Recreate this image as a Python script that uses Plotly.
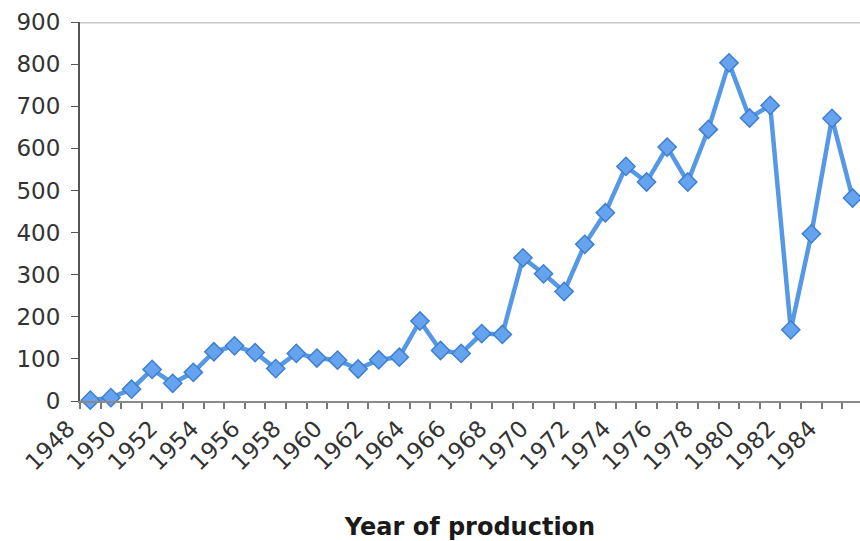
import plotly.graph_objects as go

# Yearly production counts
years = list(range(1948, 1986))
counts = [2, 8, 28, 75, 42, 68, 117, 131, 115, 77,
          113, 102, 97, 76, 98, 104, 190, 120, 113, 160,
          158, 340, 302, 260, 372, 447, 557, 520, 603, 520,
          645, 803, 672, 702, 169, 397, 671, 482]

x_label_years = list(range(1948, 1986, 2))
y_ticks = list(range(0, 1000, 100))

fig = go.Figure(
    go.Scatter(
        x=years,
        y=counts,
        mode="lines+markers",
        line=dict(color="#5598e6", width=4.5),
        marker=dict(symbol="diamond", size=14, color="#66a3ee",
                    line=dict(color="#3f7fd2", width=1.5)),
        cliponaxis=False,
    )
)

fig.update_layout(
    width=860,
    height=541,
    margin=dict(l=80, r=0, t=22, b=140),
    paper_bgcolor="white",
    plot_bgcolor="white",
    showlegend=False,
    shapes=[dict(type="line", xref="paper", yref="y", x0=0, x1=1, y0=900, y1=900,
                 line=dict(color="#c8c8c8", width=3))],
)

fig.update_xaxes(
    range=[1947.5, 1985.36],
    tickmode="array",
    tickvals=x_label_years,
    ticktext=[str(y) for y in x_label_years],
    tickangle=-45,
    ticks="outside",
    ticklen=0,
    tickfont=dict(family="DejaVu Sans", size=23, color="#333333"),
    ticklabelshift=-22,
    ticklabelstandoff=3,
    minor=dict(tickmode="linear", tick0=1947.5, dtick=1, ticks="outside",
               ticklen=6, tickcolor="#777777", tickwidth=1.5),
    showline=True,
    linecolor="#8a8a8a",
    linewidth=2,
    showgrid=False,
    zeroline=False,
    title=dict(text="Year of production",
               font=dict(family="DejaVu Sans", size=24, color="#1a1a1a", weight="bold"),
               standoff=46),
)

fig.update_yaxes(
    range=[0, 900],
    tickmode="array",
    tickvals=y_ticks,
    ticks="outside",
    ticklen=7,
    tickcolor="#555555",
    tickfont=dict(family="DejaVu Sans", size=23, color="#333333"),
    ticklabelstandoff=6,
    showline=True,
    linecolor="#555555",
    linewidth=2,
    showgrid=False,
    zeroline=False,
)

fig.write_html("out.html")
